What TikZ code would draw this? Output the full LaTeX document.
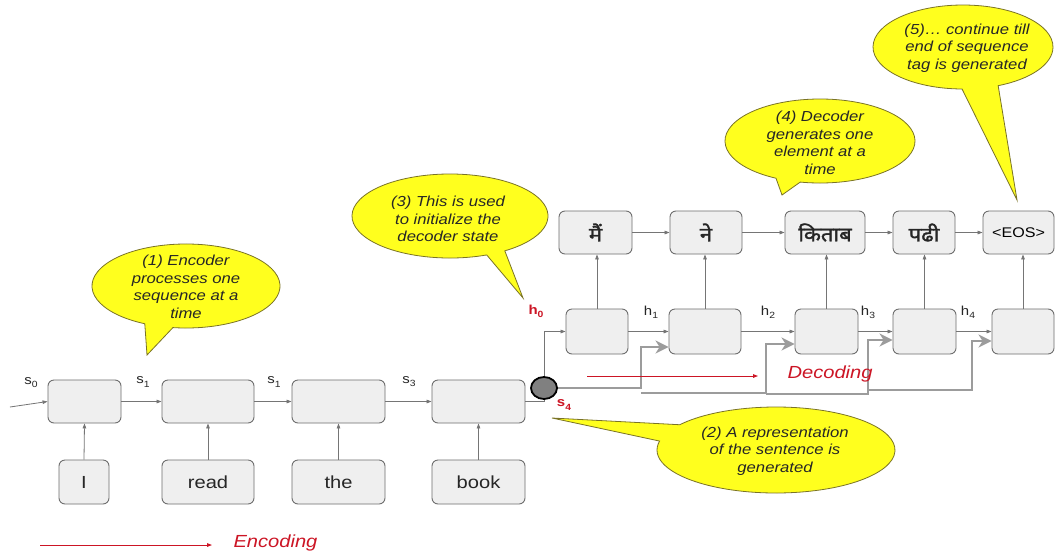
\documentclass[tikz,border=0pt]{standalone}
\usepackage{fontspec}
\setmainfont[FakeStretch=1.15]{Liberation Sans}
\newfontfamily\hindi[Script=Devanagari,FakeBold=1.6,FakeStretch=1.1]{Noto Sans}
\usetikzlibrary{arrows.meta,calc,shapes.geometric}

\definecolor{boxfill}{HTML}{EFEFEF}
\definecolor{boxline}{HTML}{6E6E6E}
\definecolor{wire}{HTML}{757575}
\definecolor{bus}{HTML}{9C9C9C}
\definecolor{notefill}{HTML}{FFFF1E}
\definecolor{noteline}{HTML}{7A7326}
\definecolor{accent}{HTML}{CC1525}
\definecolor{notetext}{HTML}{262626}

% speech bubble: centre, radii, tail base angles, tail tip
\newcommand\bubble[8]{%
  \draw[note] (#1,#2) ++(#6:#3 and #4)
    arc[start angle=#6, end angle=#5+360, x radius=#3, y radius=#4]
    -- (#7,#8) -- cycle;}
% state label with subscript
\newcommand\statelab[2]{#1\raisebox{-0.45ex}{\fontsize{9}{9}\selectfont #2}}

\begin{document}
\begin{tikzpicture}[x=1pt,y=-1pt,
  cell/.style={draw=boxline, fill=boxfill, rounded corners=6pt, line width=0.9pt, inner sep=0pt},
  wordfont/.style={font=\fontsize{17.5}{17.5}\selectfont, text=black!85},
  hindifont/.style={font=\hindi\fontsize{20}{20}\selectfont, text=black!85},
  wirearrow/.style={draw=wire, line width=0.8pt, -{Triangle[length=5pt,width=3.6pt]}},
  wireline/.style={draw=wire, line width=0.8pt},
  busline/.style={draw=bus, line width=2.4pt, -{Stealth[length=13pt,width=13pt,inset=4pt]}},
  note/.style={fill=notefill, draw=noteline, line width=0.8pt},
  notefont/.style={font=\itshape\fontsize{14.5}{17.5}\selectfont, text=notetext, align=center},
  statefont/.style={font=\fontsize{13}{13}\selectfont, text=black!85},
  redstate/.style={font=\bfseries\fontsize{13}{13}\selectfont, text=accent},
  redarrow/.style={draw=accent, line width=0.9pt, -{Triangle[length=5pt,width=3.6pt]}},
  phasefont/.style={font=\itshape\fontsize{17.5}{17.5}\selectfont, text=accent}]

\useasboundingbox (0,0) rectangle (1055,555);
\fill[white] (0,0) rectangle (1055,555);

% ---------- callouts ----------
\bubble{186}{286}{94}{42}{98}{116}{147}{355}
\bubble{450}{216}{98}{42}{56}{68}{523}{298}
\bubble{820}{141}{95}{42}{102}{117.6}{782}{195}
\bubble{963}{47}{90}{42}{67}{90.6}{1017}{200}
\bubble{776}{450}{119}{43}{192}{216}{552}{418}

\node[notefont] (n1) at (186,287) {(1) Encoder\\processes one\\sequence at a\\time};
\node[notefont] (n3) at (448,219) {(3) This is used\\to initialize the\\decoder state};
\node[notefont] (n4) at (820,143) {(4) Decoder\\generates one\\element at a\\time};
\node[notefont] (n5) at (967,48) {(5)… continue till\\end of sequence\\tag is generated};
\node[notefont] (n2) at (775,451) {(2) A representation\\of the sentence is\\generated};

% ---------- encoder ----------
\node[cell, minimum width=73pt, minimum height=43pt] (e1) at (84.5,401.5) {};
\node[cell, minimum width=92pt, minimum height=43pt] (e2) at (208,401.5) {};
\node[cell, minimum width=93pt, minimum height=43pt] (e3) at (338.5,401.5) {};
\node[cell, minimum width=93pt, minimum height=43pt] (e4) at (478.5,401.5) {};

\node[cell, wordfont, minimum width=50pt, minimum height=44pt] (i1) at (84,482) {I};
\node[cell, wordfont, minimum width=92pt, minimum height=44pt] (i2) at (208,482) {read};
\node[cell, wordfont, minimum width=93pt, minimum height=44pt] (i3) at (338.5,482) {the};
\node[cell, wordfont, minimum width=93pt, minimum height=44pt] (i4) at (478.5,482) {book};

\coordinate (s0in) at (10,407);
\draw[wirearrow] (s0in) -- (e1.west);
\draw[wirearrow] (e1) -- (e2);
\draw[wirearrow] (e2) -- (e3);
\draw[wirearrow] (e3) -- (e4);
\foreach \k in {1,2,3,4} \draw[wirearrow] (i\k.north) -- (e\k.south);

\node[statefont] (ls0) at (31,383) {\statelab{s}{0}};
\node[statefont] (ls1) at (143,382) {\statelab{s}{1}};
\node[statefont] (ls2) at (274,382) {\statelab{s}{1}};
\node[statefont] (ls3) at (409,382) {\statelab{s}{3}};

% ---------- sentence representation ----------
\node[ellipse, draw=black, fill=black!50, line width=1.8pt, minimum width=26pt, minimum height=22pt, inner sep=0pt] (rep) at (544,388) {};
\draw[wireline] (e4.east) -| (rep.south);
\node[redstate] (lh0) at (536,311) {\statelab{h}{0}};
\node[redstate] (ls4) at (564,405) {\statelab{s}{4}};

% ---------- decoder ----------
\node[cell, minimum width=62pt, minimum height=45pt] (d1) at (597,331.5) {};
\node[cell, minimum width=72pt, minimum height=45pt] (d2) at (705,331.5) {};
\node[cell, minimum width=63pt, minimum height=45pt] (d3) at (826.5,331.5) {};
\node[cell, minimum width=63pt, minimum height=45pt] (d4) at (924.5,331.5) {};
\node[cell, minimum width=62pt, minimum height=45pt] (d5) at (1023,331.5) {};

\node[cell, hindifont, minimum width=73pt, minimum height=43pt] (o1) at (595.5,232.5) {मैं};
\node[cell, hindifont, minimum width=72pt, minimum height=43pt] (o2) at (706,232.5) {ने};
\node[cell, hindifont, minimum width=80pt, minimum height=43pt] (o3) at (825,232.5) {किताब};
\node[cell, hindifont, minimum width=62pt, minimum height=43pt] (o4) at (924,232.5) {पढी};
\node[cell, font=\fontsize{14}{14}\selectfont, minimum width=71pt, minimum height=43pt] (o5) at (1018.5,232.5) {<EOS>};

\draw[wirearrow] (rep.north) |- (d1.west);
\draw[wirearrow] (d1) -- (d2);
\draw[wirearrow] (d2) -- (d3);
\draw[wirearrow] (d3) -- (d4);
\draw[wirearrow] (d4) -- (d5);
\foreach \k in {1,2,3,4,5} \draw[wirearrow] (d\k.north) -- (d\k.north |- o\k.south);
\draw[wirearrow] (o1) -- (o2);
\draw[wirearrow] (o2) -- (o3);
\draw[wirearrow] (o3) -- (o4);
\draw[wirearrow] (o4) -- (o5);

\node[statefont] (lh1) at (651,312) {\statelab{h}{1}};
\node[statefont] (lh2) at (768,312) {\statelab{h}{2}};
\node[statefont] (lh3) at (868,312) {\statelab{h}{3}};
\node[statefont] (lh4) at (968,312) {\statelab{h}{4}};

% representation fed to every decoder step
\coordinate (k2) at (641,347);
\coordinate (k3) at (766,344);
\coordinate (k4) at (868,340);
\coordinate (k5) at (972,341);
\coordinate (j2) at (641,393);
\coordinate (j3) at (766,394);
\coordinate (j4) at (868,390);
\draw[busline] (rep.east) -| (k2) -- (d2.west |- k2);
\draw[busline] (j2) -| (k3) -- (d3.west |- k3);
\draw[busline] (j3) -| (k4) -- (d4.west |- k4);
\draw[busline] (j4) -| (k5) -- (d5.west |- k5);

% ---------- phase arrows ----------
\coordinate (encA) at (40,545);
\coordinate (encB) at (212,545);
\draw[redarrow] (encA) -- (encB);
\node[phasefont, anchor=west] (enc) at (230,543) {Encoding};
\coordinate (decA) at (587,376);
\coordinate (decB) at (758,376);
\draw[redarrow] (decA) -- (decB);
\node[phasefont, anchor=west] (dec) at (784,374) {Decoding};
\end{tikzpicture}
\end{document}
